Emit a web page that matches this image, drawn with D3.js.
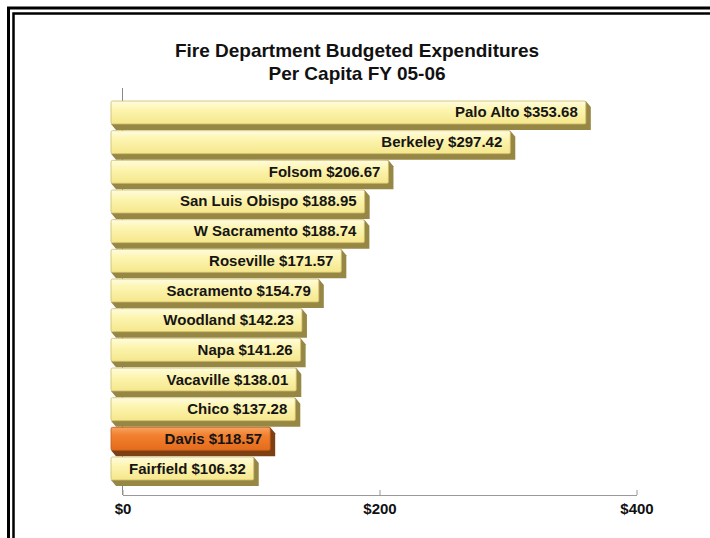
<!DOCTYPE html>
<html><head><meta charset="utf-8">
<script src="https://cdn.jsdelivr.net/npm/d3@7"></script>
<style>html,body{margin:0;padding:0;background:#fff;}svg{display:block;}</style>
</head><body>
<svg id="chart" width="710" height="538"></svg>
<script>
const cities = ["Palo Alto","Berkeley","Folsom","San Luis Obispo","W Sacramento","Roseville","Sacramento","Woodland","Napa","Vacaville","Chico","Davis","Fairfield"];
const values = [353.68,297.42,206.67,188.95,188.74,171.57,154.79,142.23,141.26,138.01,137.28,118.57,106.32];
const highlight = ["Davis"];
const tickValues = [0,200,400];
const titleLines = ["Fire Department Budgeted Expenditures","Per Capita FY 05-06"];

const svg = d3.select("#chart");
const W = 710, H = 538;
svg.append("rect").attr("width",W).attr("height",H).attr("fill","#fff");

// frame (double border, cut at right/bottom)
svg.append("rect").attr("x",8.5).attr("y",8).attr("width",760).attr("height",600)
  .attr("fill","none").attr("stroke","#000").attr("stroke-width",3);
svg.append("rect").attr("x",13.5).attr("y",13.5).attr("width",760).attr("height",600)
  .attr("fill","none").attr("stroke","#000").attr("stroke-width",2.5);

const defs = svg.append("defs");
const gy = defs.append("linearGradient").attr("id","gy").attr("x1",0).attr("y1",0).attr("x2",0).attr("y2",1);
gy.append("stop").attr("offset","0%").attr("stop-color","#fffce0");
gy.append("stop").attr("offset","35%").attr("stop-color","#fdf5b2");
gy.append("stop").attr("offset","100%").attr("stop-color","#f5e78c");
const go = defs.append("linearGradient").attr("id","go").attr("x1",0).attr("y1",0).attr("x2",0).attr("y2",1);
go.append("stop").attr("offset","0%").attr("stop-color","#f7a35e");
go.append("stop").attr("offset","35%").attr("stop-color","#f2802f");
go.append("stop").attr("offset","100%").attr("stop-color","#e46b1c");

// title
svg.append("g").selectAll("text").data(titleLines).join("text")
  .attr("x",357).attr("y",(d,i)=>57+i*23)
  .attr("text-anchor","middle")
  .attr("font-family","Liberation Sans, Arial, sans-serif")
  .attr("font-weight","bold").attr("font-size",19).attr("fill","#111")
  .text(d=>d);

// scales
const xAxisScale = d3.scaleLinear().domain([0,400]).range([122.5,636.5]);
const xBar = d3.scaleLinear().domain([0,400]).range([111,648]);
const y = d3.scaleBand().domain(cities).range([101,480]).paddingInner(0.225).paddingOuter(0);

const axisY = 495;
// vertical axis line
svg.append("line").attr("x1",xAxisScale(0)).attr("x2",xAxisScale(0))
  .attr("y1",88).attr("y2",axisY).attr("stroke","#888").attr("stroke-width",1);

// horizontal axis
const axis = d3.axisBottom(xAxisScale).tickValues(tickValues).tickSize(0).tickFormat(d=>"$"+d);
const ag = svg.append("g").attr("transform",`translate(0,${axisY})`).call(axis);
ag.select(".domain").attr("stroke","#999");
ag.selectAll(".tick line").attr("y2",-5).attr("stroke","#999");
ag.selectAll(".tick text").attr("dy",0).attr("y",19)
  .attr("font-family","Liberation Sans, Arial, sans-serif")
  .attr("font-weight","bold").attr("font-size",15).attr("fill","#111");

// bars
const dx = 5, dy = 6;
const data = cities.map((c,i)=>({c, v: values[i], hl: highlight.includes(c)}));
const bars = svg.append("g").selectAll("g").data(data).join("g");
bars.append("polygon")
  .attr("points", d=>{
    const x0 = xBar(0), x1 = xBar(d.v), y0 = y(d.c), y1 = y0 + y.bandwidth();
    return [[x0,y1],[x0+dx,y1+dy],[x1+dx,y1+dy],[x1+dx,y0+dy],[x1,y0]].map(p=>p.join(",")).join(" ");
  })
  .attr("fill", d=> d.hl ? "#7d3f14" : "#978745");
bars.append("rect")
  .attr("x", xBar(0)).attr("y", d=>y(d.c))
  .attr("width", d=>xBar(d.v)-xBar(0)).attr("height", y.bandwidth())
  .attr("rx",1.5)
  .attr("fill", d=> d.hl ? "url(#go)" : "url(#gy)")
  .attr("stroke", d=> d.hl ? "#c45a14" : "#cbbb6a").attr("stroke-width",0.8);
bars.append("text")
  .attr("x", d=>xBar(d.v)-8).attr("y", d=>y(d.c)+y.bandwidth()/2+5)
  .attr("text-anchor","end")
  .attr("font-family","Liberation Sans, Arial, sans-serif")
  .attr("font-weight","bold").attr("font-size",15).attr("fill","#151515")
  .text(d=>`${d.c} $${d.v.toFixed(2)}`);
</script>
</body></html>
